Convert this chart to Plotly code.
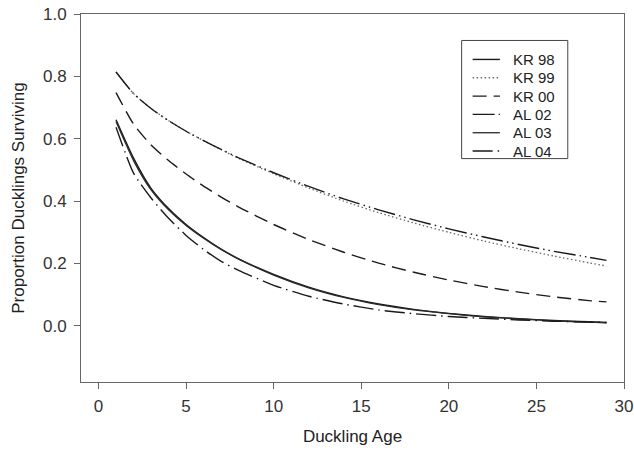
import plotly.graph_objects as go

ages = [1, 2, 3, 4, 5, 6, 7, 8, 10, 12, 14, 16, 18, 20, 22, 24, 26, 28, 29]

series_names = ["KR 98", "KR 99", "KR 00", "AL 02", "AL 03", "AL 04"]

kr98 = [0.661, 0.538, 0.441, 0.376, 0.325, 0.283, 0.246, 0.215, 0.165, 0.124,
        0.093, 0.070, 0.053, 0.040, 0.030, 0.023, 0.017, 0.013, 0.011]
kr99 = [0.814, 0.745, 0.697, 0.658, 0.624, 0.594, 0.565, 0.537, 0.488, 0.442,
        0.400, 0.363, 0.330, 0.300, 0.272, 0.247, 0.224, 0.202, 0.192]
kr00 = [0.748, 0.647, 0.580, 0.530, 0.487, 0.448, 0.413, 0.381, 0.325, 0.277,
        0.236, 0.201, 0.172, 0.147, 0.126, 0.108, 0.093, 0.081, 0.077]
al02 = [0.814, 0.745, 0.697, 0.658, 0.624, 0.594, 0.566, 0.539, 0.491, 0.447,
        0.407, 0.372, 0.340, 0.311, 0.285, 0.261, 0.239, 0.220, 0.210]
al03 = [0.655, 0.530, 0.436, 0.372, 0.322, 0.281, 0.245, 0.214, 0.163, 0.122,
        0.091, 0.068, 0.051, 0.039, 0.029, 0.022, 0.016, 0.012, 0.010]
al04 = [0.637, 0.490, 0.410, 0.345, 0.290, 0.245, 0.207, 0.178, 0.130, 0.095,
        0.070, 0.051, 0.039, 0.030, 0.024, 0.019, 0.015, 0.012, 0.011]

x_ticks = [0, 5, 10, 15, 20, 25, 30]
y_ticks = [0.0, 0.2, 0.4, 0.6, 0.8, 1.0]
y_tick_labels = ["0.0", "0.2", "0.4", "0.6", "0.8", "1.0"]

values = [kr98, kr99, kr00, al02, al03, al04]
styles = [
    dict(color="#1a1a1a", width=1.4, dash="solid"),
    dict(color="#6a6a6a", width=1.3, dash="1.5px,2.5px"),
    dict(color="#1a1a1a", width=1.4, dash="14px,7px"),
    dict(color="#1a1a1a", width=1.4, dash="22px,4px,1.5px,4px,1.5px,4px"),
    dict(color="#2a2a2a", width=1.3, dash="solid"),
    dict(color="#1a1a1a", width=1.4, dash="20px,5px,1.5px,5px"),
]

FONT = "Liberation Sans, Arial, sans-serif"
fig = go.Figure()
for name, vals, st in zip(series_names, values, styles):
    fig.add_trace(go.Scatter(x=ages, y=vals, mode="lines", name=name,
                             line=dict(shape="spline", smoothing=0.6, **st),
                             showlegend=False))

# Manual legend (paper coordinates)
L, R, T, B = 80.5, 624.3, 13.5, 382.0
W, H = R - L, B - T
def px(xp):
    return (xp - L) / W
def py(yp):
    return (B - yp) / H

shapes = [dict(type="rect", xref="paper", yref="paper",
               x0=px(461.7), x1=px(568), y0=py(158.3), y1=py(40),
               line=dict(color="#444", width=1), fillcolor="white", layer="above")]
annotations = []
for i, (name, st) in enumerate(zip(series_names, styles)):
    yy = py(59 + 18.35 * i)
    shapes.append(dict(type="line", xref="paper", yref="paper",
                       x0=px(472.7), x1=px(500), y0=yy, y1=yy,
                       line=dict(color=st["color"], width=st["width"], dash=st["dash"]),
                       layer="above"))
    annotations.append(dict(xref="paper", yref="paper", x=px(511), y=yy,
                            text=name, showarrow=False, xanchor="left", yanchor="middle",
                            font=dict(family=FONT, size=15, color="#222")))

fig.update_layout(
    width=634, height=450,
    margin=dict(l=L, r=634 - R, t=T, b=450 - B, autoexpand=False),
    paper_bgcolor="white", plot_bgcolor="white",
    font=dict(family=FONT, size=17, color="#333"),
    shapes=shapes, annotations=annotations,
    xaxis=dict(range=[-1, 30], tickvals=x_ticks, ticks="outside", ticklen=6,
               tickcolor="#666", showline=True, linecolor="#666", linewidth=1,
               mirror=True, showgrid=False, zeroline=False, automargin=False,
               ticklabelstandoff=3,
               tickfont=dict(size=17, color="#333"),
               title=dict(text="Duckling Age", font=dict(size=17, color="#222"), standoff=14)),
    yaxis=dict(range=[-0.18, 1.0], tickvals=y_ticks, ticktext=y_tick_labels,
               ticks="outside", ticklen=6, tickcolor="#666", showline=True,
               linecolor="#666", linewidth=1, mirror=True, showgrid=False,
               zeroline=False, automargin=False, ticklabelstandoff=4,
               tickfont=dict(size=17, color="#333"),
               title=dict(text="Proportion Ducklings Surviving",
                          font=dict(size=17, color="#222"), standoff=14)),
)

fig.write_html("out.html", config={"displayModeBar": False},
               post_script="document.body.style.margin='0';document.body.style.padding='0';")
